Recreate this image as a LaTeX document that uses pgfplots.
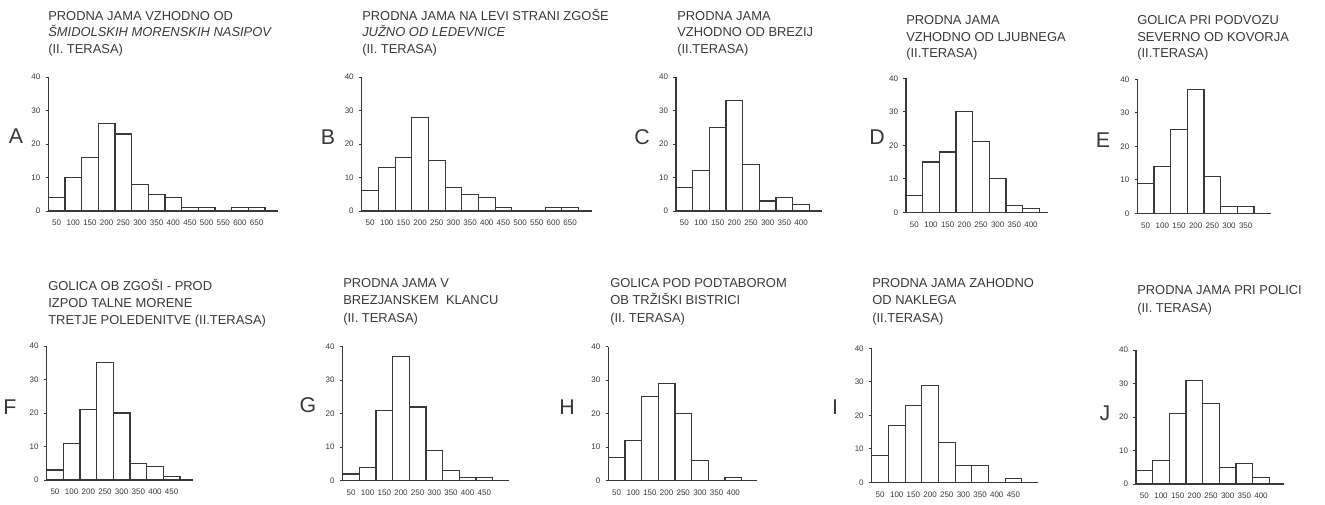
\documentclass[border=0pt]{standalone}
\usepackage{pgfplots}
\pgfplotsset{compat=1.18}
\usepackage{fontspec}
\setmainfont{Liberation Sans}
\definecolor{ink}{gray}{0.22}
\pgfplotsset{
  hist/.style={
    scale only axis, anchor=south west, height=100.5pt,
    ymin=0, ymax=40, xmin=0, enlargelimits=false, clip=false,
    axis x line*=bottom, axis y line*=left,
    ytick={0,10,20,30,40}, tick align=outside, major tick length=2pt,
    xtick style={draw=none},
    ytick style={ink, line width=0.7pt},
    /pgf/number format/assume math mode=true,
    tick label style={font=\fontsize{6}{7}\selectfont, text=ink},
    xticklabel style={yshift=-1.5pt},
    yticklabel style={xshift=-0.5pt},
    axis line style={ink, line width=0.8pt},
  },
  bar/.style={ybar interval, draw=ink, fill=white, line width=0.85pt},
}
\newcommand{\ttl}[3]{\node[anchor=base west, inner sep=0pt, text=ink, font=\fontsize{9.7}{11}\selectfont] at (#1pt,#2pt) {#3};}
\newcommand{\lab}[3]{\node[inner sep=0pt, text=ink, font=\fontsize{16}{18}\selectfont] at (#1pt,#2pt) {#3};}
\begin{document}
\begin{tikzpicture}
\path[use as bounding box] (0,0) rectangle (993.75pt,378pt);
% ---------- titles top row
\ttl{36}{362.6}{PRODNA JAMA VZHODNO OD}
\ttl{36}{350.25}{\itshape ŠMIDOLSKIH MORENSKIH NASIPOV}
\ttl{36}{337.5}{(II. TERASA)}
\ttl{271.5}{362.6}{PRODNA JAMA NA LEVI STRANI ZGOŠE}
\ttl{271.5}{350.25}{\itshape JUŽNO OD LEDEVNICE}
\ttl{271.5}{337.5}{(II. TERASA)}
\ttl{507.75}{362.6}{PRODNA JAMA}
\ttl{507.75}{350.25}{VZHODNO OD BREZIJ}
\ttl{507.75}{337.5}{(II.TERASA)}
\ttl{679.5}{359.6}{PRODNA JAMA}
\ttl{679.5}{346.9}{VZHODNO OD LJUBNEGA}
\ttl{679.5}{334.9}{(II.TERASA)}
\ttl{852.75}{359.6}{GOLICA PRI PODVOZU}
\ttl{852.75}{346.9}{SEVERNO OD KOVORJA}
\ttl{852.75}{334.9}{(II.TERASA)}
% ---------- titles bottom row
\ttl{36}{159.75}{GOLICA OB ZGOŠI - PROD}
\ttl{36}{147.4}{IZPOD TALNE MORENE}
\ttl{36}{134.6}{TRETJE POLEDENITVE (II.TERASA)}
\ttl{257.25}{162.4}{PRODNA JAMA V}
\ttl{257.25}{149.6}{BREZJANSKEM\ \ KLANCU}
\ttl{257.25}{136.1}{(II. TERASA)}
\ttl{457.5}{162.4}{GOLICA POD PODTABOROM}
\ttl{457.5}{149.6}{OB TRŽIŠKI BISTRICI}
\ttl{457.5}{136.1}{(II. TERASA)}
\ttl{654}{162.4}{PRODNA JAMA ZAHODNO}
\ttl{654}{149.6}{OD NAKLEGA}
\ttl{654}{136.1}{(II.TERASA)}
\ttl{852.75}{157.1}{PRODNA JAMA PRI POLICI}
\ttl{852.75}{143.6}{(II. TERASA)}
% ---------- panel letters
\lab{12}{276}{A}
\lab{246}{275.25}{B}
\lab{481.5}{275.25}{C}
\lab{657.75}{275.25}{D}
\lab{827.25}{273}{E}
\lab{7.5}{72.75}{F}
\lab{231}{74.25}{G}
\lab{425.25}{72.75}{H}
\lab{626.25}{72.75}{I}
\lab{828.75}{68.25}{J}
% ---------- A
\begin{axis}[hist, at={(36.2pt,219.75pt)}, width=172.5pt, xmax=13.8,
  xtick={0.5,1.5,...,12.5}, xticklabels={50,100,150,200,250,300,350,400,450,500,550,600,650}]
\addplot[bar] coordinates {(0,4)(1,10)(2,16)(3,26)(4,23)(5,8)(6,5)(7,4)(8,1)(9,1)(10,0)(11,1)(12,1)(13,1)};
\end{axis}
% ---------- B
\begin{axis}[hist, at={(271.3pt,219.75pt)}, width=172.5pt, xmax=13.8,
  xtick={0.5,1.5,...,12.5}, xticklabels={50,100,150,200,250,300,350,400,450,500,550,600,650}]
\addplot[bar] coordinates {(0,6)(1,13)(2,16)(3,28)(4,15)(5,7)(6,5)(7,4)(8,1)(9,0)(10,0)(11,1)(12,1)(13,1)};
\end{axis}
% ---------- C
\begin{axis}[hist, at={(507pt,219.75pt)}, width=109.4pt, xmax=8.75,
  xtick={0.5,1.5,...,7.5}, xticklabels={50,100,150,200,250,300,350,400}]
\addplot[bar] coordinates {(0,7)(1,12)(2,25)(3,33)(4,14)(5,3)(6,4)(7,2)(8,2)};
\end{axis}
% ---------- D
\begin{axis}[hist, at={(679.5pt,218.8pt)}, width=106.25pt, xmax=8.5,
  xtick={0.5,1.5,...,7.5}, xticklabels={50,100,150,200,250,300,350,400}]
\addplot[bar] coordinates {(0,5)(1,15)(2,18)(3,30)(4,21)(5,10)(6,2)(7,1)(8,1)};
\end{axis}
% ---------- E
\begin{axis}[hist, at={(853pt,218pt)}, width=100pt, xmax=8.0,
  xtick={0.5,1.5,...,6.5}, xticklabels={50,100,150,200,250,300,350}]
\addplot[bar] coordinates {(0,9)(1,14)(2,25)(3,37)(4,11)(5,2)(6,2)(7,2)};
\end{axis}
% ---------- F
\begin{axis}[hist, at={(35pt,18pt)}, width=110pt, xmax=8.8,
  xtick={0.5,1.5,...,7.5}, xticklabels={50,100,200,250,300,350,400,450}]
\addplot[bar] coordinates {(0,3)(1,11)(2,21)(3,35)(4,20)(5,5)(6,4)(7,1)(8,1)};
\end{axis}
% ---------- G
\begin{axis}[hist, at={(257pt,17.5pt)}, width=125pt, xmax=10,
  xtick={0.5,1.5,...,8.5}, xticklabels={50,100,150,200,250,300,350,400,450}]
\addplot[bar] coordinates {(0,2)(1,4)(2,21)(3,37)(4,22)(5,9)(6,3)(7,1)(8,1)(9,1)};
\end{axis}
% ---------- H
\begin{axis}[hist, at={(456.2pt,17.5pt)}, width=111.25pt, xmax=8.9,
  xtick={0.5,1.5,...,7.5}, xticklabels={50,100,150,200,250,300,350,400}]
\addplot[bar] coordinates {(0,7)(1,12)(2,25)(3,29)(4,20)(5,6)(6,0)(7,1)(8,1)};
\end{axis}
% ---------- I
\begin{axis}[hist, at={(653.8pt,16.3pt)}, width=124.4pt, xmax=9.95,
  xtick={0.5,1.5,...,8.5}, xticklabels={50,100,150,200,250,300,350,400,450}]
\addplot[bar] coordinates {(0,8)(1,17)(2,23)(3,29)(4,12)(5,5)(6,5)(7,0)(8,1)(9,1)};
\end{axis}
% ---------- J
\begin{axis}[hist, at={(852pt,15pt)}, width=111.25pt, xmax=8.9,
  xtick={0.5,1.5,...,7.5}, xticklabels={50,100,150,200,250,300,350,400}]
\addplot[bar] coordinates {(0,4)(1,7)(2,21)(3,31)(4,24)(5,5)(6,6)(7,2)(8,2)};
\end{axis}
\end{tikzpicture}
\end{document}
